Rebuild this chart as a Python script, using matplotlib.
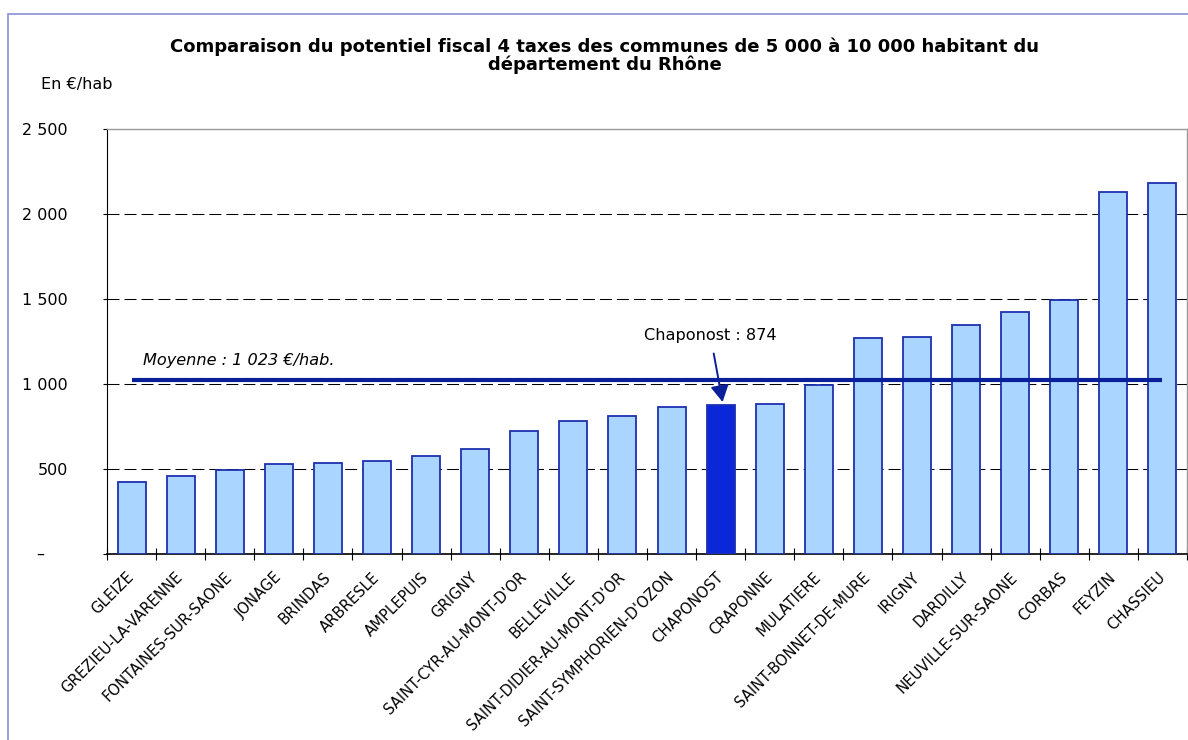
import matplotlib
matplotlib.use("Agg")
import matplotlib.pyplot as plt
from matplotlib.patches import Rectangle

# Potentiel fiscal 4 taxes, en euros par habitant
communes = ["GLEIZE", "GREZIEU-LA-VARENNE", "FONTAINES-SUR-SAONE", "JONAGE", "BRINDAS",
            "ARBRESLE", "AMPLEPUIS", "GRIGNY", "SAINT-CYR-AU-MONT-D'OR", "BELLEVILLE",
            "SAINT-DIDIER-AU-MONT-D'OR", "SAINT-SYMPHORIEN-D'OZON", "CHAPONOST", "CRAPONNE",
            "MULATIERE", "SAINT-BONNET-DE-MURE", "IRIGNY", "DARDILLY", "NEUVILLE-SUR-SAONE",
            "CORBAS", "FEYZIN", "CHASSIEU"]
potentiel = [422, 458, 493, 528, 536, 546, 578, 615, 721, 782,
             810, 864, 874, 880, 994, 1269, 1275, 1348, 1422,
             1497, 2128, 2183]
moyenne = 1023
focus = "CHAPONOST"

yticks = [0, 500, 1000, 1500, 2000, 2500]
ylabels = ["", "500", "1 000", "1 500", "2 000", "2 500"]

light = "#aad5ff"
edge = "#1c30b0"
dark = "#0a28d8"
navy = "#0a1f9a"

fig = plt.figure(figsize=(11.88, 7.4), dpi=100)

# outer frame of the chart (cut on the right and bottom)
fig.patches.append(Rectangle((8 / 1188, -0.1), 1.2, 1.1 - 14 / 740, transform=fig.transFigure,
                             fill=False, edgecolor="#8d8fd6", lw=1.2))

ax = fig.add_axes([107 / 1188, 1 - 554 / 740, 1080 / 1188, 425 / 740])

x = list(range(len(communes)))
colors = [dark if c == focus else light for c in communes]
ax.bar(x, potentiel, width=0.57, color=colors, edgecolor=edge, linewidth=1.3, zorder=3)

# average line from first to last bar
ax.plot([x[0], x[-1]], [moyenne, moyenne], color=navy, lw=3, zorder=4, solid_capstyle="butt")
ax.text(0.24, 1110, "Moyenne : 1 023 €/hab.", fontsize=11.6, style="italic", va="baseline")

i = communes.index(focus)
ax.annotate(f"Chaponost : {potentiel[i]}", xy=(i + 0.04, potentiel[i] + 20), xytext=(i - 0.21, 1288),
            ha="center", va="center", fontsize=11.6,
            arrowprops=dict(arrowstyle="-|>,head_length=1.0,head_width=0.55", color=navy, lw=1.4,
                            mutation_scale=10, shrinkA=6, shrinkB=0))

ax.set_xlim(-0.5, len(communes) - 0.5)
ax.set_ylim(0, 2500)

ax.set_yticks(yticks)
ax.set_yticklabels(ylabels, fontsize=11.5)
ax.tick_params(axis="y", direction="out", length=3, width=0.8, pad=25)
ax.annotate("–", xy=(0, 0), xycoords=("axes fraction", "data"), xytext=(-48, 0),
            textcoords="offset points", ha="center", va="center", fontsize=11.5)

ax.set_xticks(x)
ax.set_xticklabels(communes, rotation=45, ha="right", va="center", rotation_mode="anchor",
                   fontsize=10.6)
ax.set_xticks([k - 0.5 for k in range(len(communes) + 1)], minor=True)
ax.tick_params(axis="x", which="major", length=0, pad=15)
ax.tick_params(axis="x", which="minor", direction="inout", length=8, width=0.8)

for v in yticks[1:-1]:
    ax.axhline(v, color="black", lw=0.75, dashes=(11.5, 4.8), zorder=1)

for s in ["top", "right"]:
    ax.spines[s].set_color("#999999")
    ax.spines[s].set_linewidth(1)
ax.spines["left"].set_color("black")
ax.spines["bottom"].set_color("black")
ax.spines["bottom"].set_linewidth(1.2)

fig.text(605 / 1188, 1 - 56 / 740,
         "Comparaison du potentiel fiscal 4 taxes des communes de 5 000 à 10 000 habitant du\n"
         "département du Rhône", ha="center", va="center", fontsize=13, fontweight="bold",
         linespacing=1.0)
fig.text(41 / 1188, 1 - 84 / 740, "En €/hab", fontsize=11.5, va="center")

fig.savefig("out.png", dpi=100)
